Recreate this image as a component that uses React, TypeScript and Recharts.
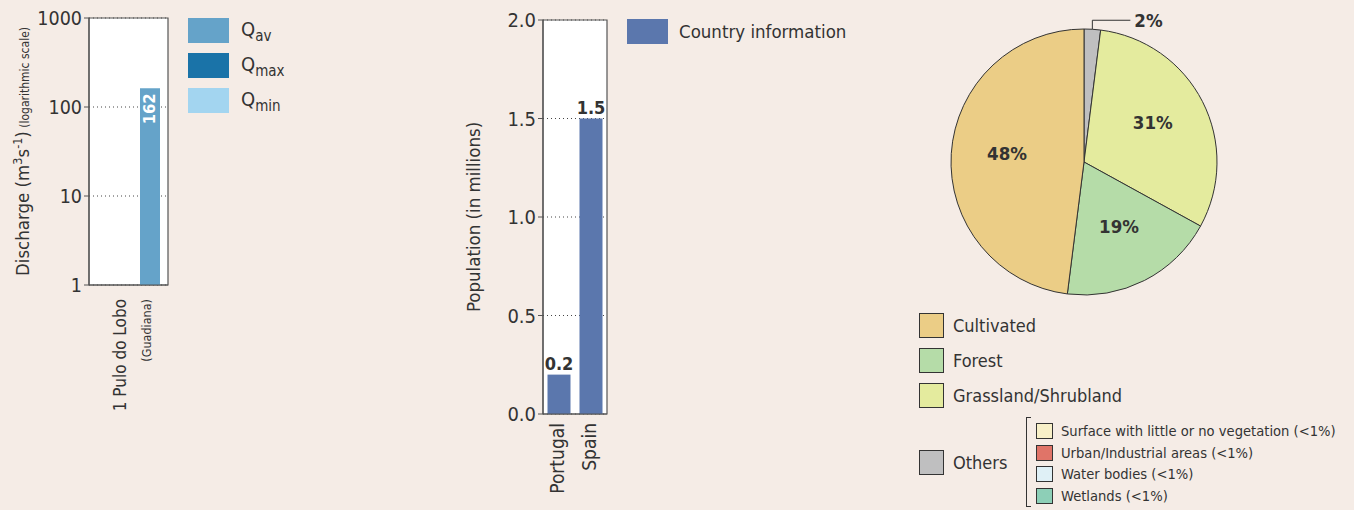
import React from 'react';
import {
  Bar,
  BarChart,
  CartesianGrid,
  Cell,
  LabelList,
  Pie,
  PieChart,
  ReferenceArea,
  XAxis,
  YAxis,
} from 'recharts';

const FONT = "'DejaVu Sans Condensed', 'Liberation Sans Narrow', 'Arial Narrow', sans-serif";
const INK = '#333333';
const AXIS = '#555555';
const BG = '#f5ece6';

// discharge, log scale
const stations = ['1 Pulo do Lobo'];
const stationRivers = ['(Guadiana)'];
const qAv = [162];
const qMax: (number | null)[] = [null];
const qMin: (number | null)[] = [null];
const dischargeTicks = [1, 10, 100, 1000];
const qKeys = ['av', 'max', 'min'];
const qColors = ['#65a3c9', '#1a73a8', '#a3d5f0'];

// population
const countries = ['Portugal', 'Spain'];
const population = [0.2, 1.5];
const populationTicks = [0, 0.5, 1, 1.5, 2];
const countryColor = '#5b77ad';

// land cover (clockwise from 12 o'clock)
const landNames = ['Others', 'Grassland/Shrubland', 'Forest', 'Cultivated'];
const landShares = [2, 31, 19, 48];
const landColors = ['#bfbfc0', '#e4eb9e', '#b5dca8', '#ebcd86'];
const landLegend = ['Cultivated', 'Forest', 'Grassland/Shrubland', 'Others'];
const otherNames = [
  'Surface with little or no vegetation (<1%)',
  'Urban/Industrial areas (<1%)',
  'Water bodies (<1%)',
  'Wetlands (<1%)',
];
const otherColors = ['#f8f0c8', '#e07468', '#dff0f6', '#8dcfb7'];

const dischargeData = stations.map((s, i) => ({
  name: s,
  river: stationRivers[i],
  av: qAv[i],
  max: qMax[i],
  min: qMin[i],
}));
const populationData = countries.map((c, i) => ({ name: c, value: population[i] }));
const landData = landNames.map((n, i) => ({ name: n, value: landShares[i], color: landColors[i] }));

const RAD = Math.PI / 180;

function StationTick({ x, y, payload }: any) {
  const d = dischargeData.find((r) => r.name === payload.value);
  const top = y + 6;
  return (
    <g fontFamily={FONT} fill={INK}>
      <text x={x - 9} y={top} transform={`rotate(-90 ${x - 9} ${top})`} textAnchor="end" dominantBaseline="central" fontSize={17}>
        {payload.value}
      </text>
      <text x={x + 18} y={top} transform={`rotate(-90 ${x + 18} ${top})`} textAnchor="end" dominantBaseline="central" fontSize={12.5}>
        {d?.river}
      </text>
    </g>
  );
}

function CountryTick({ x, y, payload }: any) {
  const top = y + 1;
  return (
    <text x={x - 2} y={top} transform={`rotate(-90 ${x - 2} ${top})`} textAnchor="end" dominantBaseline="central" fontSize={19} fontFamily={FONT} fill={INK}>
      {payload.value}
    </text>
  );
}

function DischargeLabel({ viewBox }: any) {
  const cx = 29;
  const cy = viewBox.y + viewBox.height / 2;
  return (
    <text x={cx} y={cy} transform={`rotate(-90 ${cx} ${cy})`} textAnchor="middle" fontFamily={FONT} fill={INK} fontSize={18.5}>
      Discharge (m<tspan dy={-7} fontSize={12.5}>3</tspan>
      <tspan dy={7}>s</tspan>
      <tspan dy={-7} fontSize={12.5}>-1</tspan>
      <tspan dy={7}>)</tspan>
      <tspan fontSize={12}> (logarithmic scale)</tspan>
    </text>
  );
}

function PopulationLabel({ viewBox }: any) {
  const lx = 20;
  const cy = viewBox.y + viewBox.height / 2;
  return (
    <text x={lx} y={cy} transform={`rotate(-90 ${lx} ${cy})`} textAnchor="middle" fontFamily={FONT} fill={INK} fontSize={18.5}>
      Population (in millions)
    </text>
  );
}

function InsideBarValue({ x, y, width, value }: any) {
  if (value == null) return null;
  const cx = x + width / 2;
  const ty = y + 5;
  return (
    <text x={cx} y={ty} transform={`rotate(-90 ${cx} ${ty})`} textAnchor="end" dominantBaseline="central" fill="#ffffff" fontFamily={FONT} fontWeight="bold" fontSize={16.5}>
      {value}
    </text>
  );
}

function LandLabel({ cx, cy, midAngle, outerRadius, value }: any) {
  const cos = Math.cos(-midAngle * RAD);
  const sin = Math.sin(-midAngle * RAD);
  if (value < 5) {
    const ox = cx + outerRadius * cos;
    const oy = cy + outerRadius * sin;
    const ly = oy - 9;
    return (
      <g>
        <polyline points={`${ox},${oy} ${ox},${ly} ${ox + 38},${ly}`} fill="none" stroke={INK} strokeWidth={1} />
        <text x={ox + 42} y={ly} dominantBaseline="central" fontFamily={FONT} fontWeight="bold" fontSize={18.5} fill={INK}>
          {value}%
        </text>
      </g>
    );
  }
  const r = outerRadius * 0.58;
  return (
    <text x={cx + r * cos} y={cy + r * sin - 4} textAnchor="middle" dominantBaseline="central" fontFamily={FONT} fontWeight="bold" fontSize={18.5} fill={INK}>
      {value}%
    </text>
  );
}

const swatch = (color: string, w: number, h: number, border?: boolean): React.CSSProperties => ({
  position: 'absolute',
  width: w,
  height: h,
  background: color,
  boxSizing: 'border-box',
  border: border ? `1px solid ${INK}` : 'none',
});

export default function App() {
  return (
    <div style={{ position: 'absolute', left: 0, top: 0, width: 1354, height: 510, background: BG, fontFamily: FONT, color: INK, overflow: 'hidden' }}>
      {/* discharge */}
      <div style={{ position: 'absolute', left: 0, top: 0 }}>
        <BarChart width={170} height={420} data={dischargeData} margin={{ top: 18, right: 2, bottom: 5, left: 0 }} barGap={1} barSize={20}>
          <CartesianGrid vertical={false} strokeDasharray="1 3" stroke="#444" fill="#ffffff" fillOpacity={1} />
          <XAxis dataKey="name" height={130} tick={<StationTick />} tickLine={false} axisLine={{ stroke: AXIS, strokeWidth: 1.2 }} interval={0} />
          <YAxis
            type="number"
            scale="log"
            domain={[1, 1000]}
            ticks={dischargeTicks}
            allowDataOverflow
            width={89}
            tickSize={5}
            tickMargin={2}
            tick={{ fill: INK, fontSize: 19.5, fontFamily: FONT }}
            axisLine={{ stroke: AXIS, strokeWidth: 1.2 }}
            tickLine={{ stroke: AXIS }}
            label={<DischargeLabel />}
          />
          <Bar dataKey="min" fill={qColors[2]} isAnimationActive={false} />
          <Bar dataKey="max" fill={qColors[1]} isAnimationActive={false} />
          <Bar dataKey="av" fill={qColors[0]} isAnimationActive={false}>
            <LabelList dataKey="av" content={<InsideBarValue />} />
          </Bar>
          <ReferenceArea y1={1} y2={1000} fill="none" stroke={AXIS} strokeWidth={1.2} ifOverflow="visible" />
        </BarChart>
      </div>
      {qKeys.map((k, i) => (
        <div key={k}>
          <div style={{ ...swatch(qColors[i], 41, 25), left: 188, top: 18 + i * 35 }} />
          <div style={{ position: 'absolute', left: 241, top: 17 + i * 35, height: 25, lineHeight: '25px', fontSize: 20, whiteSpace: 'nowrap' }}>
            Q<span style={{ fontSize: 15, position: 'relative', top: 5 }}>{k}</span>
          </div>
        </div>
      ))}

      {/* population */}
      <div style={{ position: 'absolute', left: 460, top: 0 }}>
        <BarChart width={150} height={510} data={populationData} margin={{ top: 20, right: 3, bottom: 0, left: 0 }} barCategoryGap={4.5}>
          <CartesianGrid vertical={false} strokeDasharray="1 3" stroke="#444" fill="#ffffff" fillOpacity={1} />
          <XAxis dataKey="name" height={96} tick={<CountryTick />} tickLine={false} axisLine={{ stroke: AXIS, strokeWidth: 1.2 }} interval={0} />
          <YAxis
            type="number"
            domain={[0, 2]}
            ticks={populationTicks}
            tickFormatter={(v: number) => v.toFixed(1)}
            width={83}
            tickSize={5}
            tickMargin={2}
            tick={{ fill: INK, fontSize: 20, fontFamily: FONT }}
            axisLine={{ stroke: AXIS, strokeWidth: 1.2 }}
            tickLine={{ stroke: AXIS }}
            label={<PopulationLabel />}
          />
          <Bar dataKey="value" fill={countryColor} isAnimationActive={false}>
            <LabelList dataKey="value" position="top" offset={5} fill={INK} fontSize={18} fontWeight="bold" fontFamily={FONT} />
          </Bar>
          <ReferenceArea y1={0} y2={2} fill="none" stroke={AXIS} strokeWidth={1.2} ifOverflow="visible" />
        </BarChart>
      </div>
      <div style={{ ...swatch(countryColor, 41, 25), left: 627, top: 19 }} />
      <div style={{ position: 'absolute', left: 679, top: 19, height: 25, lineHeight: '25px', fontSize: 18.5, whiteSpace: 'nowrap' }}>Country information</div>

      {/* land cover */}
      <div style={{ position: 'absolute', left: 900, top: 0 }}>
        <PieChart width={454} height={300} margin={{ top: 0, right: 0, bottom: 0, left: 0 }}>
          <Pie
            data={landData}
            dataKey="value"
            nameKey="name"
            cx={184}
            cy={162}
            outerRadius={133}
            startAngle={90}
            endAngle={-270}
            stroke={INK}
            strokeWidth={1}
            label={<LandLabel />}
            labelLine={false}
            isAnimationActive={false}
          >
            {landData.map((d) => (
              <Cell key={d.name} fill={d.color} />
            ))}
          </Pie>
        </PieChart>
      </div>
      {landLegend.map((name, i) => {
        const top = i < 3 ? 313 + i * 35 : 450;
        const color = landColors[landNames.indexOf(name)];
        return (
          <div key={name}>
            <div style={{ ...swatch(color, 25, 25, true), left: 919, top }} />
            <div style={{ position: 'absolute', left: 953, top, height: 25, lineHeight: '25px', fontSize: 18, whiteSpace: 'nowrap' }}>{name}</div>
          </div>
        );
      })}
      <div style={{ position: 'absolute', left: 1026, top: 417, width: 5, height: 90, borderLeft: `1px solid ${INK}`, borderTop: `1px solid ${INK}`, borderBottom: `1px solid ${INK}`, boxSizing: 'border-box' }} />
      {otherNames.map((name, i) => (
        <div key={name}>
          <div style={{ ...swatch(otherColors[i], 17, 16, true), left: 1036, top: 423 + i * 21.5 }} />
          <div style={{ position: 'absolute', left: 1061, top: 421 + i * 21.5, height: 20, lineHeight: '20px', fontSize: 14.6, whiteSpace: 'nowrap' }}>{name}</div>
        </div>
      ))}
    </div>
  );
}
